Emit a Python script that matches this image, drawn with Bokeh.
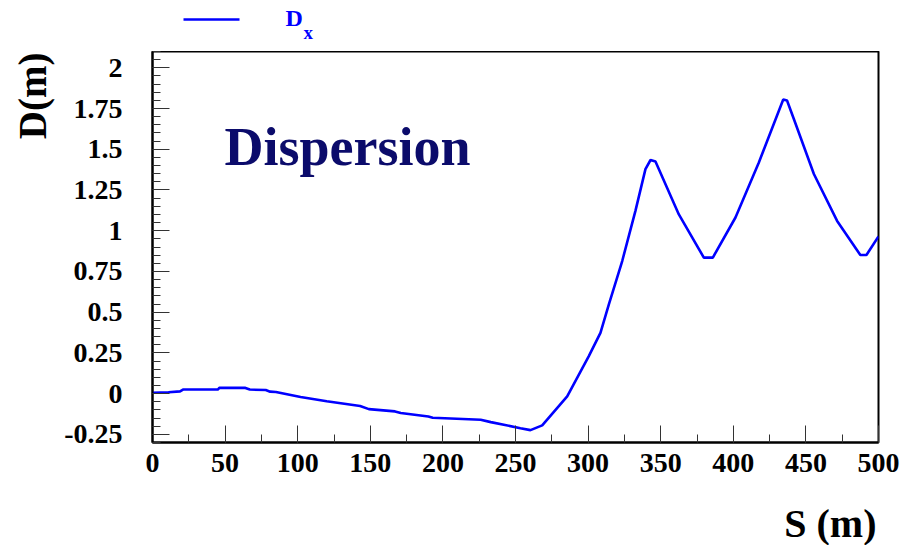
import math
from bokeh.plotting import figure
from bokeh.models import Range1d, FixedTicker, CustomJSTickFormatter, Label, Title
from bokeh.layouts import column
from bokeh.core.properties import value
from bokeh.embed import file_html
from bokeh.resources import INLINE

# Data
s_m = [0, 11, 19, 21, 45, 46, 64, 67, 78, 81, 85, 102, 120, 143, 149, 167, 171,
       190, 193, 226, 233, 253.4, 260.3, 268.4, 285.6, 300.5, 308.5, 314.3, 323.5,
       332.6, 339.5, 343, 346.4, 362.5, 379.7, 385.9, 401.5, 417.6, 434.4, 437,
       441.7, 455.5, 471.5, 487.5, 491.7, 500]
d_x = [0.005, 0.008, 0.014, 0.025, 0.025, 0.035, 0.035, 0.025, 0.022, 0.012, 0.01,
       -0.021, -0.047, -0.076, -0.095, -0.109, -0.119, -0.14, -0.148, -0.16, -0.175,
       -0.212, -0.224, -0.195, -0.017, 0.23, 0.373, 0.548, 0.814, 1.122, 1.378, 1.434,
       1.425, 1.10, 0.835, 0.835, 1.081, 1.419, 1.805, 1.799, 1.686, 1.348, 1.06,
       0.851, 0.851, 0.965]

x_ticks = [0, 50, 100, 150, 200, 250, 300, 350, 400, 450, 500]
y_ticks = [-0.25, 0, 0.25, 0.5, 0.75, 1, 1.25, 1.5, 1.75, 2]
x_minor = [25 * i for i in range(21)]
y_minor = [round(-0.3 + 0.05 * i, 2) for i in range(49)]

title_text = "Dispersion"
x_label = "S (m)"
y_label = "D(m)"
legend_main = "D"
legend_sub = "x"

FONT = "Liberation Serif"
BLUE = "#0000ff"


def strip(height, top, bottom):
    f = figure(width=901, height=height, output_backend="svg",
               toolbar_location=None, x_range=Range1d(152, 878),
               y_range=Range1d(bottom, top), x_axis_type=None,
               y_axis_type=None, min_border=0)
    f.outline_line_color = None
    f.xgrid.visible = False
    f.ygrid.visible = False
    f.background_fill_color = "white"
    f.border_fill_color = "white"
    return f


# ---- legend strip (page-pixel-like coordinates, y pointing down) ----
leg = strip(51, 0, 51)
leg.line([183, 239], [19, 19], line_color=BLUE, line_width=2.6)
leg.text(x=[285], y=[17], text=[legend_main], text_font=value(FONT),
         text_font_style="bold", text_font_size="24px", text_color=BLUE,
         text_baseline="middle")
leg.text(x=[303], y=[32], text=[legend_sub], text_font=value(FONT),
         text_font_style="bold", text_font_size="19px", text_color=BLUE,
         text_baseline="middle")

# ---- main plot ----
p = figure(width=901, height=444, output_backend="svg", toolbar_location=None,
           x_range=Range1d(0, 500), y_range=Range1d(-0.3, 2.1),
           min_border_left=152, min_border_right=23, min_border_top=0,
           min_border_bottom=53)
p.background_fill_color = "white"
p.border_fill_color = "white"
p.outline_line_color = "black"
p.outline_line_width = 2
p.xgrid.visible = False
p.ygrid.visible = False

p.line(s_m, d_x, line_color=BLUE, line_width=2.6)

p.xaxis.ticker = FixedTicker(ticks=x_ticks, minor_ticks=x_minor)
p.yaxis.ticker = FixedTicker(ticks=y_ticks, minor_ticks=y_minor)
fmt = CustomJSTickFormatter(code="return String(tick);")
for ax in (p.xaxis[0], p.yaxis[0]):
    ax.formatter = fmt
    ax.major_tick_in = 17
    ax.major_tick_out = 0
    ax.minor_tick_in = 8
    ax.minor_tick_out = 0
    ax.major_tick_line_color = "#333333"
    ax.minor_tick_line_color = "#333333"
    ax.axis_line_color = "black"
    ax.axis_line_width = 2
    ax.major_label_text_font = FONT
    ax.major_label_text_font_style = "bold"
    ax.major_label_text_font_size = "28px"
    ax.major_label_text_color = "black"
p.yaxis.major_label_standoff = 30
p.xaxis.major_label_standoff = 11

p.add_layout(Title(text=y_label, align="right", text_font=FONT,
                   text_font_style="bold", text_font_size="39px",
                   text_color="black", standoff=15, offset=1), "left")

p.add_layout(Label(x=49.6, y=1.511, text=title_text, text_font=FONT,
                   text_font_style="bold", text_font_size="54px",
                   text_color="#0b0b6b", text_baseline="middle"))

# ---- x-axis title strip (page-pixel-like coordinates) ----
bot = strip(50, 495, 545)
bot.text(x=[876], y=[523], text=[x_label], text_font=value(FONT),
         text_font_style="bold", text_font_size="40px", text_color="black",
         text_align="right", text_baseline="middle")

layout = column(leg, p, bot, spacing=0)
open("out.html", "w").write(file_html(layout, INLINE))
